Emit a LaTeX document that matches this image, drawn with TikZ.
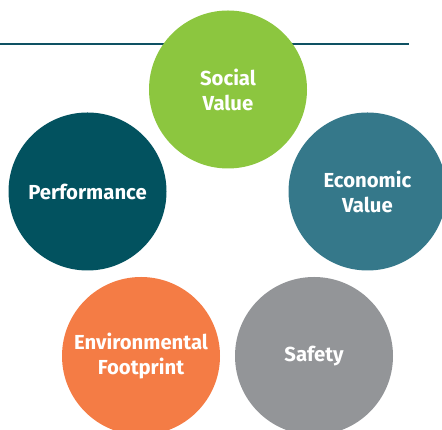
\documentclass[tikz,border=0pt]{standalone}
\usepackage{fontspec}
\setmainfont{Fira Sans}
\definecolor{socialgreen}{HTML}{8CC63F}
\definecolor{perfteal}{HTML}{02525F}
\definecolor{econteal}{HTML}{35788A}
\definecolor{envorange}{HTML}{F47C45}
\definecolor{safetygray}{HTML}{939598}
\definecolor{rulecolor}{HTML}{0E5163}
\begin{document}
\begin{tikzpicture}[x=1pt,y=1pt,line join=round,
	bubble/.style={circle,minimum size=158pt,inner sep=0pt,text=white,align=center,
		font=\fontsize{20.3}{25}\selectfont\bfseries}]
	\def\w{442}
	\def\h{430}
	\useasboundingbox (0,0) rectangle (\w,\h);
	\clip (0,0) rectangle (\w,\h);
	\coordinate (ruleL) at (0,386);
	\coordinate (ruleR) at (409,386);
	\draw[rulecolor,line width=2pt] (ruleL) -- (ruleR); % line behind the top circle
	\node[bubble,fill=socialgreen] (social) at (228,340.5) {Social\\Value};
	\node[bubble,fill=perfteal] (perf) at (87.5,238.5) {Performance};
	\node[bubble,fill=econteal] (econ) at (367.5,238.5) {Economic\\Value};
	\node[bubble,fill=envorange] (env) at (141,74) {Environmental\\Footprint};
	\node[bubble,fill=safetygray] (safety) at (314,74) {Safety};
\end{tikzpicture}
\end{document}
